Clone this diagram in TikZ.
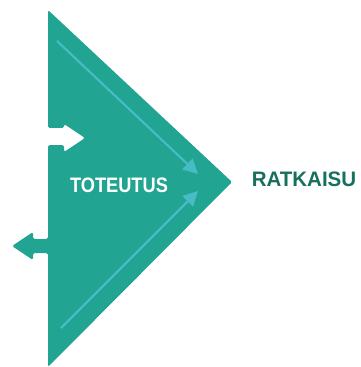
\documentclass[tikz,border=0pt]{standalone}
\usepackage{fontspec}
\setmainfont{Liberation Sans}
\usetikzlibrary{arrows.meta}
\definecolor{teal}{HTML}{21A491}
\definecolor{flow}{HTML}{48BCC4}
\definecolor{darkteal}{HTML}{176F5D}
\tikzset{
  txt/.style={font=\bfseries\fontsize{15.7pt}{17pt}\selectfont, inner sep=0pt, anchor=center},
  flowline/.style={draw=flow, line width=1.6pt, -{Triangle[length=11pt,width=11pt]}},
}
\begin{document}
\begin{tikzpicture}[x=0.75pt,y=-0.75pt]
\useasboundingbox (0,0) rectangle (360,367);
% wedge with an inlet notch and an outlet arrow on its left side
\fill[teal, rounded corners=1.2pt]
  (48,10) -- (232,182) -- (48,367) -- (48,253) -- (33,253) -- (33,260)
  -- (12,246) -- (33,232) -- (33,239) -- (48,239) -- (48,145)
  -- (64,145) -- (64,152) -- (85,138) -- (64,124) -- (64,128)
  -- (48,128) -- cycle;
% inner flows converging on the tip
\coordinate (u0) at (57,41);
\coordinate (u1) at (198,174);
\coordinate (l0) at (61,328);
\coordinate (l1) at (198,191);
\draw[flowline] (u0) -- (u1);
\draw[flowline] (l0) -- (l1);
\node[txt, text=white] (toteutus) at (119,185.5) {\scalebox{0.87}[1]{TOTEUTUS}};
\node[txt, text=darkteal] (ratkaisu) at (304,179.5) {\scalebox{0.98}[1]{RATKAISU}};
\end{tikzpicture}
\end{document}
